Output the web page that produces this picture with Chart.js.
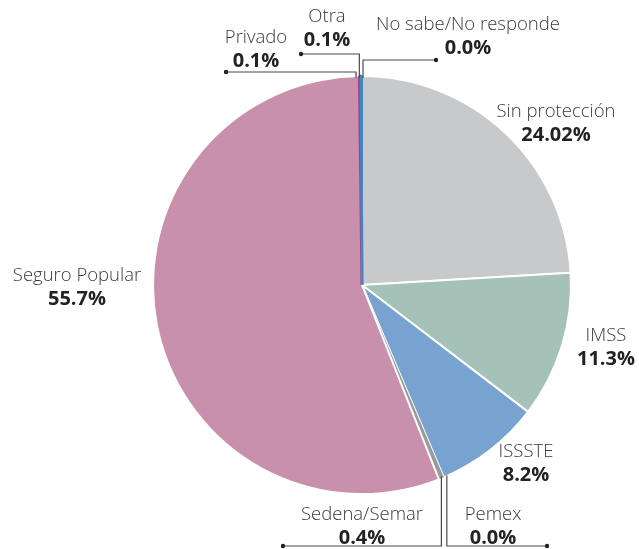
<!DOCTYPE html>
<html>
<head>
<meta charset="utf-8">
<script src="https://cdn.jsdelivr.net/npm/chart.js@4"></script>
<style>
  html, body { margin: 0; padding: 0; background: #fff; }
  #wrap { width: 639px; height: 549px; position: relative; }
</style>
</head>
<body>
<div id="wrap"><canvas id="pie" width="639" height="549"></canvas></div>
<script>
// datos
const labels = ['Sin protección', 'IMSS', 'ISSSTE', 'Pemex', 'Sedena/Semar', 'Seguro Popular', 'Privado', 'Otra', 'No sabe/No responde'];
const values = [24.02, 11.3, 8.2, 0.0, 0.4, 55.7, 0.1, 0.1, 0.0];
const valueText = ['24.02%', '11.3%', '8.2%', '0.0%', '0.4%', '55.7%', '0.1%', '0.1%', '0.0%'];
const colors = ['#c8c9cb', '#a4c2b7', '#78a2d0', '#808080', '#999a9c', '#c990ae', '#a6447c', '#3d88c9', '#222222'];

// posición de etiquetas (centro x, y nombre, y valor) y guías
const layout = [
  { x: 556, y: 112 },
  { x: 606, y: 336 },
  { x: 526, y: 452 },
  { x: 493, y: 515, lineY: 546, dotX: 547, dx: 3 },
  { x: 362, y: 515, lineY: 546, dotX: 283, dx: 0 },
  { x: 77,  y: 276 },
  { x: 256, y: 38,  lineY: 72, dotX: 226, dx: -4 },
  { x: 327, y: 17,  lineY: 54, dotX: 301, dx: -2 },
  { x: 468, y: 25,  lineY: 60, dotX: 436, dx: 1 }
];

const labelPlugin = {
  id: 'pieLabels',
  afterDraw(chart) {
    const ctx = chart.ctx;
    const arcs = chart.getDatasetMeta(0).data;
    ctx.save();
    arcs.forEach((arc, i) => {
      const L = layout[i];
      if (L.lineY !== undefined) {
        const mid = (arc.startAngle + arc.endAngle) / 2;
        const r = arc.outerRadius;
        const px = arc.x + Math.cos(mid) * r + L.dx;
        const py = arc.y + Math.sin(mid) * r + (L.lineY < arc.y ? 2 : -2);
        ctx.strokeStyle = '#4a4a4a';
        ctx.lineWidth = 1.2;
        ctx.beginPath();
        ctx.moveTo(px, py);
        ctx.lineTo(px, L.lineY);
        ctx.lineTo(L.dotX, L.lineY);
        ctx.stroke();
        ctx.fillStyle = '#222';
        ctx.beginPath();
        ctx.arc(L.dotX, L.lineY, 2.2, 0, Math.PI * 2);
        ctx.fill();
      }
      ctx.textAlign = 'center';
      ctx.textBaseline = 'middle';
      ctx.fillStyle = '#3a3a3a';
      ctx.font = '300 18.5px "Open Sans"';
      ctx.fillText(labels[i], L.x, L.y);
      ctx.fillStyle = '#222';
      ctx.font = 'bold 20px "Open Sans"';
      ctx.fillText(valueText[i], L.x, L.y + 23);
    });
    ctx.restore();
  }
};

new Chart(document.getElementById('pie'), {
  type: 'pie',
  data: {
    labels,
    datasets: [{
      data: values,
      backgroundColor: colors,
      borderColor: ['#fff', '#fff', '#fff', '#fff', '#fff', '#fff', '#a6447c', '#3d88c9', '#fff'],
      borderWidth: [2, 2, 2, 0, 0, 2, 3, 2, 0]
    }]
  },
  options: {
    responsive: false,
    animation: false,
    radius: 209,
    layout: { padding: { left: 153, right: 68, top: 76, bottom: 55 } },
    plugins: {
      legend: { display: false },
      tooltip: { enabled: false }
    }
  },
  plugins: [labelPlugin]
});
</script>
</body>
</html>
